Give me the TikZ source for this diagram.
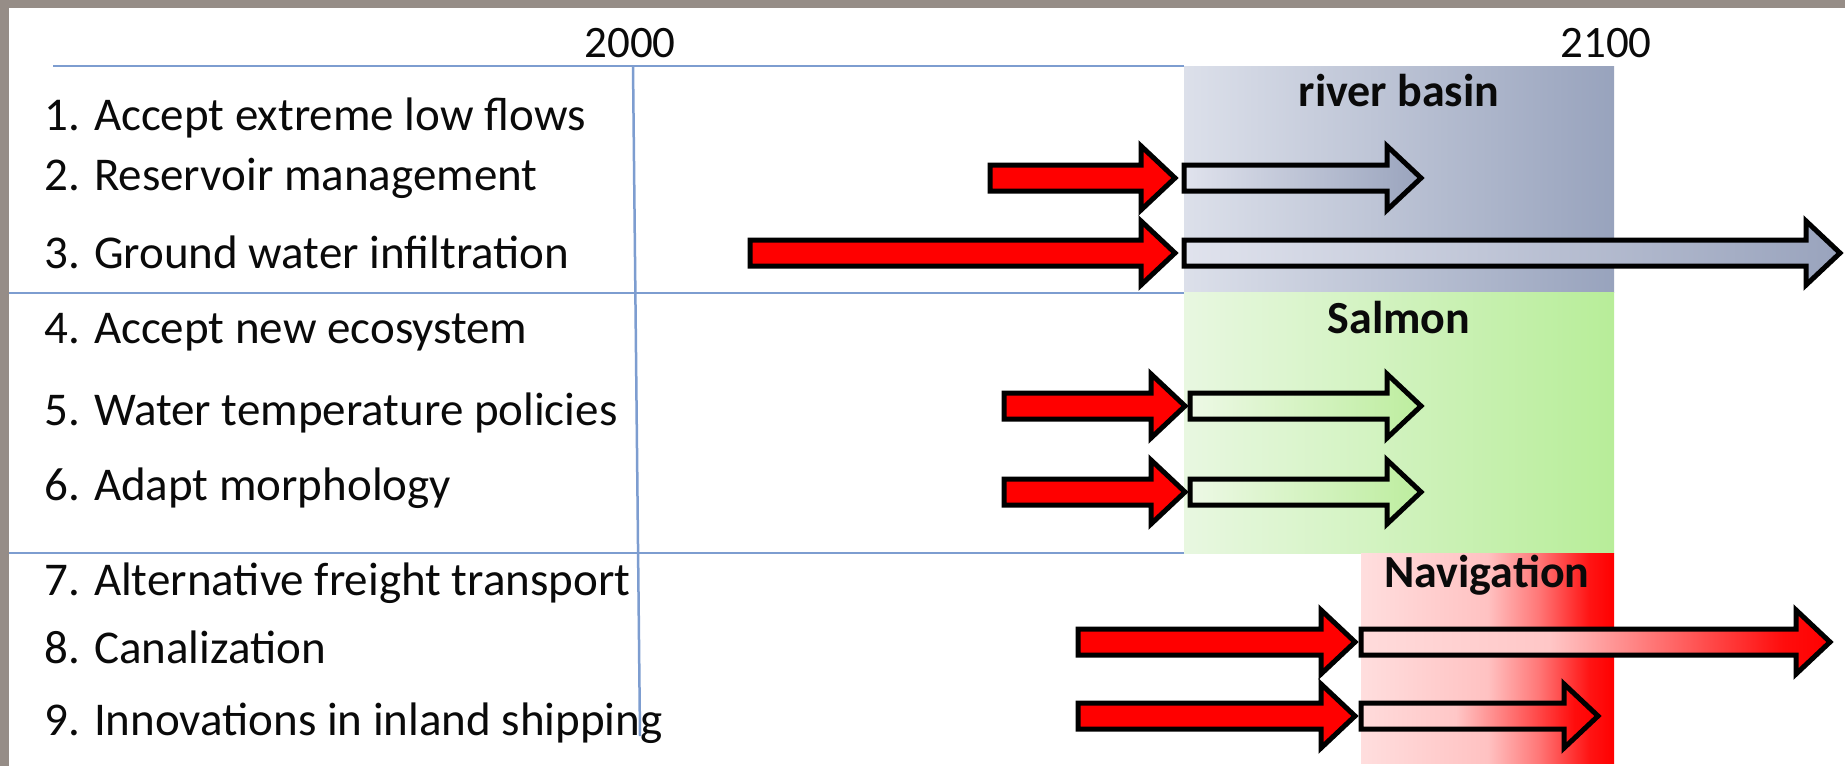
\documentclass[tikz,border=0pt]{standalone}
\usepackage{fontspec}
\setmainfont{Carlito}
\definecolor{gridblue}{RGB}{125,157,208}
\definecolor{framegray}{RGB}{150,141,135}
\definecolor{txt}{RGB}{10,10,10}
\pgfdeclarehorizontalshading{basinbox}{100bp}{rgb(0bp)=(0.863,0.878,0.918); rgb(25bp)=(0.863,0.878,0.918); rgb(75bp)=(0.596,0.639,0.741); rgb(100bp)=(0.596,0.639,0.741)}
\pgfdeclarehorizontalshading{salmonbox}{100bp}{rgb(0bp)=(0.91,0.97,0.88); rgb(25bp)=(0.91,0.97,0.88); rgb(75bp)=(0.72,0.93,0.60); rgb(100bp)=(0.72,0.93,0.60)}
\pgfdeclarehorizontalshading{navbox}{100bp}{rgb(0bp)=(1,0.87,0.87); rgb(25bp)=(1,0.87,0.87); rgb(50bp)=(1,0.76,0.76); rgb(60bp)=(1,0.47,0.47); rgb(70bp)=(1,0.08,0.08); rgb(75bp)=(1,0,0); rgb(100bp)=(1,0,0)}
\pgfdeclarehorizontalshading{basinarr}{100bp}{rgb(0bp)=(0.88,0.89,0.93); rgb(25bp)=(0.88,0.89,0.93); rgb(75bp)=(0.60,0.64,0.74); rgb(100bp)=(0.60,0.64,0.74)}
\pgfdeclarehorizontalshading{salmonarr}{100bp}{rgb(0bp)=(0.93,0.975,0.90); rgb(25bp)=(0.93,0.975,0.90); rgb(75bp)=(0.74,0.93,0.62); rgb(100bp)=(0.74,0.93,0.62)}
\pgfdeclarehorizontalshading{navarr}{100bp}{rgb(0bp)=(1,0.86,0.86); rgb(25bp)=(1,0.86,0.86); rgb(45bp)=(1,0.78,0.78); rgb(60bp)=(1,0.35,0.35); rgb(70bp)=(1,0.05,0.05); rgb(75bp)=(1,0,0); rgb(100bp)=(1,0,0)}
\newcommand\blkarrow[4]{%
  \path[#1] (#2,#4-13) -- (#3-34,#4-13) -- (#3-34,#4-32) -- (#3,#4)
    -- (#3-34,#4+32) -- (#3-34,#4+13) -- (#2,#4+13) -- cycle;}
\begin{document}
\begin{tikzpicture}[x=1pt,y=-1pt,
  lbl/.style={anchor=base west,inner sep=0pt,text=txt,font=\fontsize{47}{56}\selectfont},
  yearlbl/.style={anchor=base,inner sep=0pt,text=txt,font=\fontsize{45}{54}\selectfont},
  boxlbl/.style={anchor=base,inner sep=0pt,text=txt,font=\fontsize{46}{54}\selectfont\bfseries},
  gridline/.style={draw=gridblue,line width=2.5pt},
  redarrow/.style={draw=black,line width=5pt,line join=miter,fill=red},
  shadearrow/.style={draw=black,line width=5pt,line join=miter,shading=#1}]
\useasboundingbox (0,0) rectangle (1845,766);
\fill[white] (0,0) rectangle (1845,766);
% frame bands
\fill[framegray] (0,0) rectangle (1845,8);
\fill[framegray] (0,0) rectangle (9,766);
% grid lines
\draw[gridline] (53,66) -- (1184,66);
\draw[gridline] (9,293) -- (1184,293);
\draw[gridline] (9,553) -- (1184,553);
\draw[gridline] (633,66) -- (640,736);
% category boxes
\path[shading=basinbox] (1184,66) rectangle (1614,292);
\path[shading=salmonbox] (1184,292) rectangle (1614,553);
\path[shading=navbox] (1361,553) rectangle (1614,763);
% years
\node[yearlbl] (y2000) at (630,57) {2000};
\node[yearlbl] (y2100) at (1606,57) {2100};
% box labels
\node[boxlbl] (basin) at (1399,106) {river basin};
\node[boxlbl] (salmon) at (1399,333) {Salmon};
\node[boxlbl] (nav) at (1487,587) {Navigation};
% row labels
\node[lbl] (r1) at (44,130) {1. Accept extreme low flows};
\node[lbl] (r2) at (44,190) {2. Reservoir management};
\node[lbl] (r3) at (44,268) {3. Ground water infiltration};
\node[lbl] (r4) at (44,343) {4. Accept new ecosystem};
\node[lbl] (r5) at (44,425) {5. Water temperature policies};
\node[lbl] (r6) at (44,500) {6. Adapt morphology};
\node[lbl] (r7) at (44,595) {7. Alternative freight transport};
\node[lbl] (r8) at (44,663) {8. Canalization};
\node[lbl] (r9) at (44,735) {9. Innovations in inland shipping};
% arrows
\blkarrow{redarrow}{990}{1175}{178}
\blkarrow{shadearrow=basinarr}{1184}{1421}{178}
\blkarrow{redarrow}{750}{1175}{253}
\blkarrow{shadearrow=basinarr}{1184}{1840}{253}
\blkarrow{redarrow}{1004}{1185}{406}
\blkarrow{shadearrow=salmonarr}{1190}{1421}{406}
\blkarrow{redarrow}{1004}{1185}{492}
\blkarrow{shadearrow=salmonarr}{1190}{1421}{492}
\blkarrow{redarrow}{1078}{1355}{642}
\blkarrow{shadearrow=navarr}{1361}{1830}{642}
\blkarrow{redarrow}{1078}{1355}{716}
\blkarrow{shadearrow=navarr}{1361}{1598}{716}
\end{tikzpicture}
\end{document}
